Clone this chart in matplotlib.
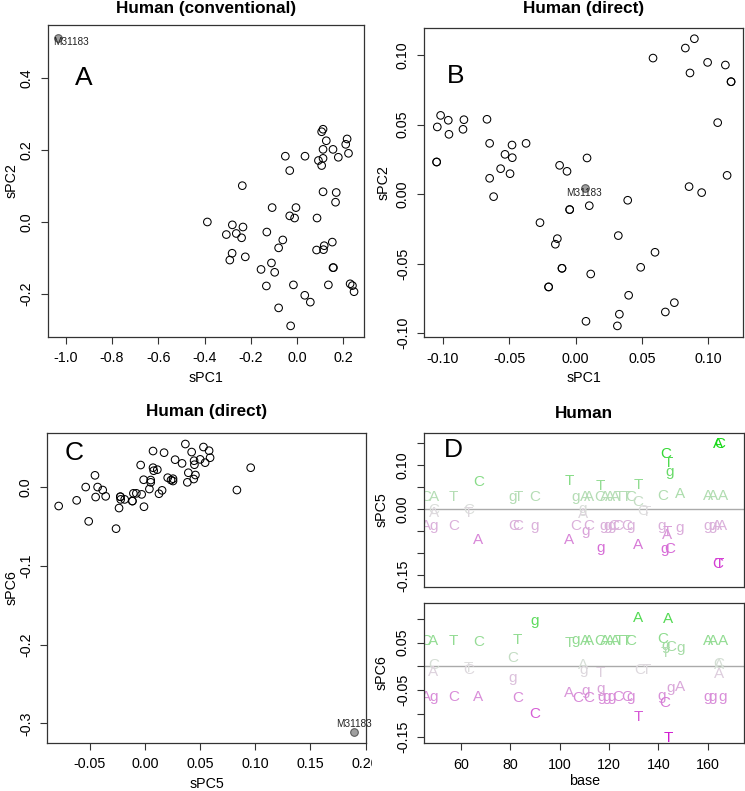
import matplotlib
matplotlib.use('Agg')
import matplotlib.pyplot as plt
from matplotlib.patches import Rectangle
import numpy as np

plt.rcParams['font.family'] = ['Liberation Sans', 'DejaVu Sans']
plt.rcParams['axes.unicode_minus'] = False

# ---------------- Panel A: Human (conventional), sPC1 vs sPC2 ----------------
a_x = [-0.388, -0.237, -0.280, -0.234, -0.306, -0.263, -0.240, -0.281, -0.291, -0.224,
       -0.131, -0.108, -0.156, -0.111, -0.097, -0.133, -0.080, -0.062, -0.051, -0.032,
       -0.032, -0.011, -0.005, 0.034, 0.092, 0.106, 0.112, 0.112, 0.106, 0.112,
       0.126, 0.155, 0.178, 0.210, 0.216, 0.222, 0.112, 0.169, 0.166, 0.086,
       0.084, 0.114, 0.117, 0.152, 0.155, 0.157, 0.135, -0.016, 0.229, 0.239,
       0.246, 0.033, 0.057, -0.080, -0.028]
a_y = [0.000, 0.101, -0.008, -0.014, -0.035, -0.032, -0.044, -0.087, -0.106, -0.097,
       -0.028, 0.040, -0.132, -0.114, -0.140, -0.178, -0.072, -0.050, 0.183, 0.143,
       0.017, 0.011, 0.040, 0.183, 0.171, 0.157, 0.177, 0.202, 0.251, 0.258,
       0.226, 0.202, 0.180, 0.216, 0.231, 0.191, 0.084, 0.082, 0.055, 0.011,
       -0.078, -0.077, -0.066, -0.056, -0.127, -0.127, -0.175, -0.175, -0.172, -0.177,
       -0.194, -0.204, -0.223, -0.239, -0.289]
a_hl_x = [-1.032]
a_hl_y = [0.511]

# ---------------- Panel B: Human (direct), sPC1 vs sPC2 ----------------
b_x = [0.0897, 0.0829, 0.0585, 0.0997, 0.1131, 0.0864, 0.1174, 0.1174, 0.1073, 0.1144,
       0.0857, 0.0952, -0.1018, -0.0960, -0.0842, -0.1043, -0.0849, -0.0955, -0.0668,
       -0.1048, -0.1048, -0.0648, -0.0479, -0.0373, -0.0532, -0.0477, -0.0565, -0.0494,
       -0.0648, -0.0618, -0.0120, -0.0064, 0.0087, -0.0044, -0.0044, 0.0104, 0.0394,
       -0.0268, -0.0137, -0.0152, 0.0323, 0.0600, 0.0492, -0.0102, -0.0102, 0.0115,
       -0.0203, -0.0203, 0.0401, 0.0746, 0.0678, 0.0331, 0.0079, 0.0316]
b_y = [0.1117, 0.1050, 0.0978, 0.0947, 0.0928, 0.0871, 0.0808, 0.0808, 0.0514, 0.0135,
       0.0054, 0.0011, 0.0566, 0.0531, 0.0535, 0.0483, 0.0466, 0.0430, 0.0538,
       0.0231, 0.0231, 0.0365, 0.0353, 0.0365, 0.0286, 0.0262, 0.0183, 0.0147,
       0.0114, -0.0018, 0.0207, 0.0164, 0.0260, -0.0111, -0.0111, -0.0083, -0.0044,
       -0.0205, -0.0320, -0.0360, -0.0298, -0.0418, -0.0526, -0.0533, -0.0533, -0.0574,
       -0.0667, -0.0667, -0.0727, -0.0780, -0.0847, -0.0863, -0.0914, -0.0947]
b_hl_x = [0.0069]
b_hl_y = [0.0044]

# ---------------- Panel C: Human (direct), sPC5 vs sPC6 ----------------
c_x = [-0.0781, -0.0618, -0.0509, -0.0536, -0.0452, -0.0428, -0.0446, -0.0382, -0.0355,
       -0.0261, -0.0234, -0.0222, -0.0222, -0.0219, -0.0183, -0.0113, -0.0113, -0.0104,
       -0.0077, -0.0029, -0.0008, -0.0011, -0.0038, 0.0041, 0.0053, 0.0053, 0.0074,
       0.0074, 0.0080, 0.0113, 0.0128, 0.0156, 0.0174, 0.0207, 0.0237, 0.0255, 0.0255,
       0.0274, 0.0337, 0.0367, 0.0424, 0.0394, 0.0385, 0.0443, 0.0458, 0.0446, 0.0449,
       0.0501, 0.0531, 0.0546, 0.0582, 0.0591, 0.0834, 0.0959]
c_y = [-0.0237, -0.0165, -0.0432, 0.0004, 0.0153, 0.0004, -0.0123, -0.0034, -0.0114,
       -0.0525, -0.0263, -0.0119, -0.0119, -0.0153, -0.0153, -0.0174, -0.0174, -0.0076,
       -0.0076, -0.0089, -0.0246, 0.0097, 0.0284, -0.0021, 0.0064, 0.0093, 0.0462,
       0.0250, 0.0212, 0.0225, -0.0081, -0.0038, 0.0441, 0.0123, 0.0093, 0.0110, 0.0081,
       0.0352, 0.0305, 0.0551, 0.0449, 0.0186, 0.0064, 0.0106, 0.0157, 0.0339, 0.0288,
       0.0356, 0.0513, 0.0314, 0.0466, 0.0377, -0.0034, 0.0250]
c_hl_x = [0.1896]
c_hl_y = [-0.3106]
hl_label = 'M31183'

# ---------------- Panel D: base loadings ----------------
d5_base = [46.0, 49.0, 57.0, 81.0, 83.4, 89.8, 106.7, 110.4, 112.0,
           116.4, 118.4, 120.4, 122.4, 124.4, 127.0, 129.0,
           141.8, 148.8, 160.2, 162.3, 166.1,
           67.1, 103.8, 116.7, 131.9, 131.5, 142.8, 144.1, 144.7, 164.2, 164.7,
           49.0, 49.0, 63.1, 63.1, 109.5, 109.5, 133.5, 135.0,
           46.0, 49.0, 57.0, 81.3, 83.1, 89.8, 106.7, 110.7, 111.7,
           117.7, 119.3, 121.0, 122.0, 123.5, 127.4, 128.7,
           141.3, 143.6, 143.6, 148.8, 160.0, 161.8, 163.8, 165.8,
           67.1, 103.8, 116.7, 131.9, 142.5, 144.8, 164.2, 164.7]
d5_letter = ['C', 'A', 'T', 'g', 'T', 'C', 'g', 'A', 'A',
             'C', 'A', 'A', 'A', 'T', 'T', 'C',
             'C', 'A', 'A', 'A', 'A',
             'C', 'T', 'T', 'T', 'C', 'C', 'T', 'g', 'A', 'C',
             'C', 'A', 'C', 'T', 'g', 'A', 'C', 'T',
             'A', 'g', 'C', 'C', 'C', 'g', 'C', 'g', 'C',
             'g', 'g', 'g', 'C', 'C', 'C', 'g',
             'g', 'T', 'A', 'g', 'g', 'g', 'A', 'A',
             'A', 'A', 'g', 'A', 'g', 'C', 'C', 'T']
d5_value = [0.031, 0.031, 0.031, 0.031, 0.031, 0.031, 0.031, 0.031, 0.031,
            0.031, 0.031, 0.031, 0.031, 0.031, 0.031, 0.031,
            0.034, 0.039, 0.034, 0.034, 0.034,
            0.065, 0.067, 0.057, 0.059, 0.019, 0.129, 0.108, 0.089, 0.152, 0.152,
            0.002, -0.004, 0.002, -0.005, 0.004, -0.007, 0.000, -0.002,
            -0.034, -0.034, -0.034, -0.034, -0.034, -0.034, -0.034, -0.045, -0.034,
            -0.034, -0.034, -0.034, -0.034, -0.034, -0.034, -0.034,
            -0.034, -0.047, -0.055, -0.038, -0.034, -0.034, -0.034, -0.034,
            -0.066, -0.067, -0.085, -0.077, -0.086, -0.086, -0.121, -0.121]

d6_base = [46.0, 48.9, 57.0, 82.9, 103.8, 106.7, 110.4, 112.0,
           116.4, 118.4, 120.4, 122.4, 124.4, 127.0, 129.0,
           141.8, 143.1, 144.9, 142.9, 148.9, 160.2, 162.3, 166.1,
           89.8, 131.9, 144.1, 67.1, 81.0,
           48.9, 48.9, 63.1, 63.1, 109.6, 109.6, 116.7, 132.6, 135.3, 164.5, 164.5, 164.5,
           81.0,
           46.0, 48.9, 57.0, 67.1, 82.9, 103.7, 107.5, 110.5, 111.9, 116.7,
           117.2, 119.2, 121.2, 123.7, 127.3, 128.6,
           141.3, 142.5, 144.8, 148.6, 160.0, 161.8, 166.2,
           89.8, 131.9, 144.1]
d6_letter = ['C', 'A', 'T', 'T', 'T', 'g', 'A', 'A',
             'C', 'A', 'A', 'A', 'T', 'T', 'C',
             'C', 'g', 'C', 'T', 'g', 'A', 'A', 'A',
             'g', 'A', 'A', 'C', 'C',
             'C', 'A', 'T', 'C', 'A', 'g', 'T', 'C', 'T', 'C', 'A', 'A',
             'g',
             'A', 'g', 'C', 'A', 'C', 'A', 'C', 'g', 'C', 'g',
             'g', 'g', 'g', 'C', 'C', 'g',
             'g', 'C', 'g', 'A', 'g', 'g', 'g',
             'C', 'T', 'T']
d6_value = [0.057, 0.057, 0.057, 0.058, 0.052, 0.058, 0.057, 0.057,
            0.057, 0.057, 0.057, 0.057, 0.057, 0.057, 0.057,
            0.061, 0.046, 0.045, 0.031, 0.042, 0.057, 0.057, 0.057,
            0.098, 0.105, 0.104, 0.054, 0.020,
            0.006, -0.009, 0.000, -0.004, 0.005, -0.005, -0.011, -0.004, -0.004, 0.008, 0.006, -0.013,
            -0.022,
            -0.062, -0.062, -0.062, -0.061, -0.063, -0.054, -0.064, -0.050, -0.064, -0.044,
            -0.061, -0.061, -0.061, -0.061, -0.061, -0.061,
            -0.059, -0.075, -0.043, -0.041, -0.061, -0.061, -0.061,
            -0.098, -0.103, -0.149]

# ---------------- Drawing ----------------
W, H = 745, 791
fig = plt.figure(figsize=(W / 100, H / 100), dpi=100)


def px_axes(left, top, right, bottom):
    return fig.add_axes([left / W, 1 - bottom / H, (right - left) / W, (bottom - top) / H])


SPINE = '#333333'
TICK_FS = 10.3


def style_axes(ax):
    for s in ax.spines.values():
        s.set_color(SPINE)
        s.set_linewidth(0.9)
    ax.tick_params(direction='out', length=4.8, width=0.8, color=SPINE,
                   labelsize=TICK_FS, pad=5.5)
    ax.tick_params(axis='y', labelrotation=90)
    for lbl in ax.get_yticklabels():
        lbl.set_va('center')


def set_ylabel_px(ax, text, x_px, left_px, width_px):
    ax.set_ylabel(text, fontsize=TICK_FS)
    ax.yaxis.set_label_coords((x_px - left_px) / width_px, 0.5)
    ax.yaxis.label.set_va('center')


def scatter_panel(ax, x, y, hx, hy):
    ax.scatter(x, y, s=30, facecolors='none', edgecolors='black', linewidths=0.75, zorder=3)
    ax.scatter(hx, hy, s=30, facecolors='#a0a0a0', edgecolors='#555555', linewidths=0.75, zorder=3)


# Panel A
axA = px_axes(47.7, 25, 364, 337)
scatter_panel(axA, a_x, a_y, a_hl_x, a_hl_y)
axA.set_xlim(-1.078, 0.289)
axA.set_ylim(-0.320, 0.548)
axA.set_xticks([-1.0, -0.8, -0.6, -0.4, -0.2, 0.0, 0.2])
axA.set_xticklabels(['-1.0', '-0.8', '-0.6', '-0.4', '-0.2', '0.0', '0.2'])
axA.set_yticks([-0.2, 0.0, 0.2, 0.4])
axA.set_yticklabels(['-0.2', '0.0', '0.2', '0.4'])
style_axes(axA)
axA.set_xlabel('sPC1', fontsize=TICK_FS, labelpad=4)
set_ylabel_px(axA, 'sPC2', 12, 47.7, 316.3)
axA.text(-1.055, 0.500, hl_label, fontsize=7.2, ha='left', va='center', color='#222222')

# Panel B
axB = px_axes(424.3, 28.3, 743, 337.3)
scatter_panel(axB, b_x, b_y, b_hl_x, b_hl_y)
axB.set_xlim(-0.1141, 0.1264)
axB.set_ylim(-0.1029, 0.1192)
axB.set_xticks([-0.10, -0.05, 0.0, 0.05, 0.10])
axB.set_xticklabels(['-0.10', '-0.05', '0.00', '0.05', '0.10'])
axB.set_yticks([-0.10, -0.05, 0.0, 0.05, 0.10])
axB.set_yticklabels(['-0.10', '-0.05', '0.00', '0.05', '0.10'])
style_axes(axB)
axB.set_xlabel('sPC1', fontsize=TICK_FS, labelpad=4)
set_ylabel_px(axB, 'sPC2', 384, 424.3, 318.7)
axB.text(0.0066, 0.0011, hl_label, fontsize=7.2, ha='center', va='center', color='#222222')

# Panel C
axC = px_axes(47.3, 432.7, 365.7, 742.7)
scatter_panel(axC, c_x, c_y, c_hl_x, c_hl_y)
axC.set_xlim(-0.0884, 0.2001)
axC.set_ylim(-0.3246, 0.0695)
axC.set_xticks([-0.05, 0.0, 0.05, 0.10, 0.15, 0.20])
axC.set_xticklabels(['-0.05', '0.00', '0.05', '0.10', '0.15', '0.20'])
axC.set_yticks([-0.3, -0.2, -0.1, 0.0])
axC.set_yticklabels(['-0.3', '-0.2', '-0.1', '0.0'])
style_axes(axC)
axC.set_xlabel('sPC5', fontsize=TICK_FS, labelpad=4)
set_ylabel_px(axC, 'sPC6', 12, 47.3, 318.4)
axC.text(0.1896, -0.3013, hl_label, fontsize=7.2, ha='center', va='center',
         color='#222222', clip_on=False)

# white mask cutting panel C at the panel boundary
fig.patches.append(Rectangle((372 / W, 0), 1 - 372 / W, 1 - 390 / H, transform=fig.transFigure,
                             facecolor='white', edgecolor='none', zorder=1))


def letter_color(v, vmax=0.15):
    f = min(abs(v) / vmax, 1.0)
    gray = np.array([0.87, 0.87, 0.87])
    tgt = np.array([0.1, 0.85, 0.1]) if v > 0 else np.array([0.82, 0.1, 0.82])
    return tuple(gray + (tgt - gray) * f)


def letters_panel(ax, bases, letters, values):
    ax.axhline(0, color='#aaaaaa', lw=1.0, zorder=1)
    for b, l, v in zip(bases, letters, values):
        ax.text(b, v, l, fontsize=11, ha='center', va='center_baseline',
                color=letter_color(v), clip_on=True, zorder=2)


axD5 = px_axes(424.3, 432.7, 744.3, 586.7)
axD5.set_zorder(2)
letters_panel(axD5, d5_base, d5_letter, d5_value)
axD5.set_xlim(45.26, 174.8)
axD5.set_ylim(-0.1758, 0.1742)
axD5.set_xticks([])
axD5.set_yticks([-0.15, -0.10, -0.05, 0.0, 0.05, 0.10, 0.15])
axD5.set_yticklabels(['-0.15', '', '', '0.00', '', '0.10', ''])
style_axes(axD5)
set_ylabel_px(axD5, 'sPC5', 382, 424.3, 320)

axD6 = px_axes(424.3, 602.7, 744.3, 743.3)
axD6.set_zorder(2)
letters_panel(axD6, d6_base, d6_letter, d6_value)
axD6.set_xlim(45.26, 174.8)
axD6.set_ylim(-0.1627, 0.1345)
axD6.set_xticks([60, 80, 100, 120, 140, 160])
axD6.set_xticklabels(['60', '80', '100', '120', '140', '160'])
axD6.set_yticks([-0.15, -0.10, -0.05, 0.0, 0.05, 0.10])
axD6.set_yticklabels(['-0.15', '', '-0.05', '', '0.05', ''])
style_axes(axD6)
axD6.set_xlabel('base', fontsize=TICK_FS, labelpad=2)
set_ylabel_px(axD6, 'sPC6', 382, 424.3, 320)

# titles
TFS = 12.3
fig.text(205.9 / W, 1 - 8 / H, 'Human (conventional)', fontsize=TFS, fontweight='bold',
         ha='center', va='center')
fig.text(583.6 / W, 1 - 8 / H, 'Human (direct)', fontsize=TFS, fontweight='bold',
         ha='center', va='center')
fig.text(206.5 / W, 1 - 411.7 / H, 'Human (direct)', fontsize=TFS, fontweight='bold',
         ha='center', va='center')
fig.text(584.3 / W, 1 - 413 / H, 'Human', fontsize=TFS, fontweight='bold',
         ha='center', va='center', zorder=3)

# panel letters
fig.text(83.3 / W, 1 - 77.7 / H, 'A', fontsize=19, ha='center', va='center')
fig.text(455.3 / W, 1 - 76 / H, 'B', fontsize=19, ha='center', va='center')
fig.text(74 / W, 1 - 453.3 / H, 'C', fontsize=19, ha='center', va='center')
fig.text(453 / W, 1 - 450 / H, 'D', fontsize=19, ha='center', va='center', zorder=3)

fig.savefig('out.png', dpi=100)
